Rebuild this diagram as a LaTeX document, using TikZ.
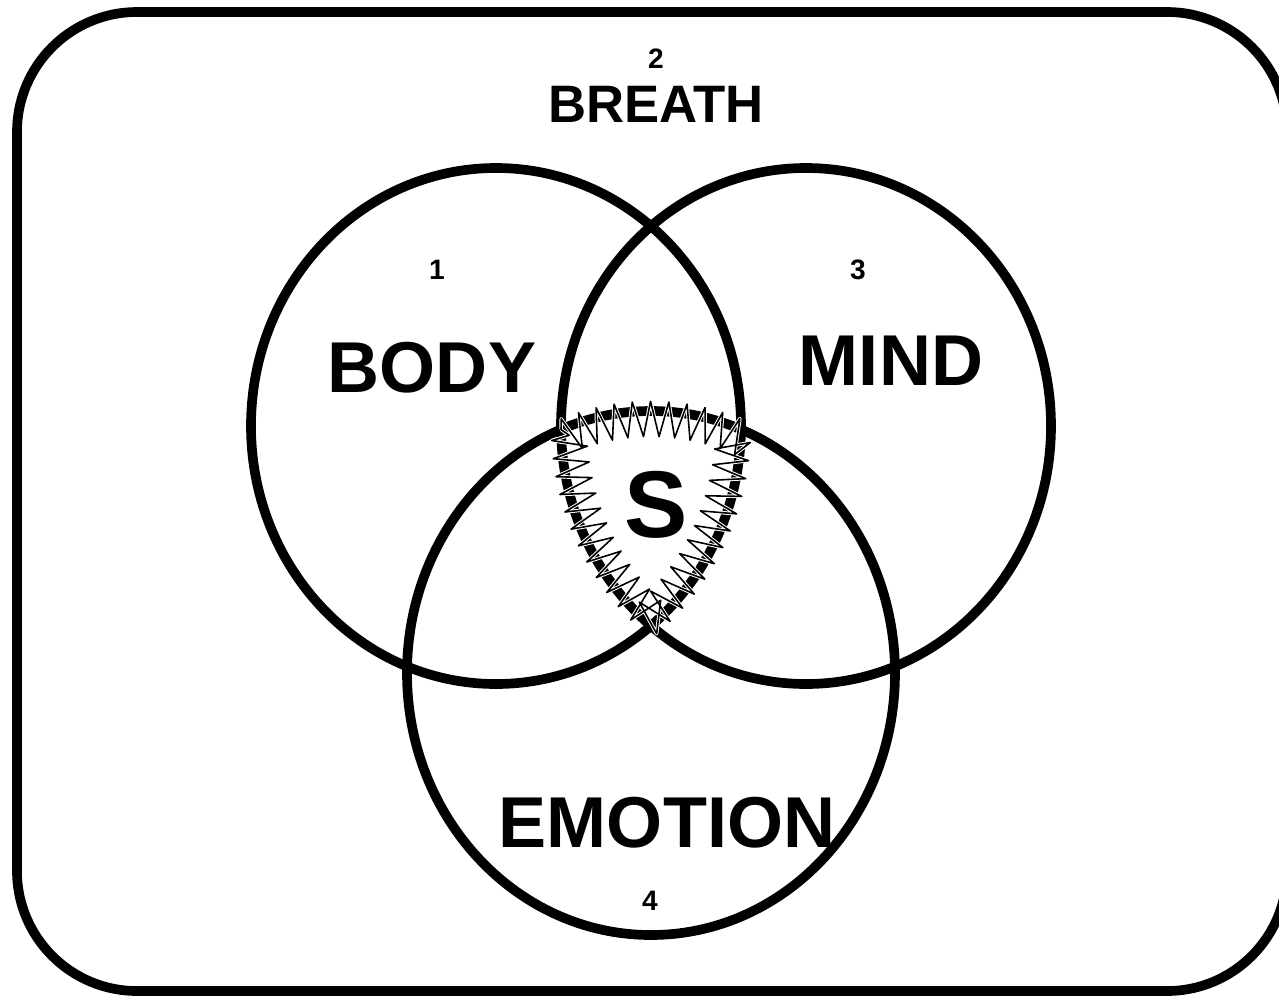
\documentclass[tikz,border=0pt]{standalone}
\usepackage{fontspec}
\setmainfont{Liberation Sans}
\usetikzlibrary{decorations.pathmorphing}

\begin{document}
\begin{tikzpicture}[x=0.02cm,y=-0.02cm,line join=round,
  ring/.style={line width=5.5pt},
  bigword/.style={font=\fontsize{41}{41}\selectfont\bfseries,anchor=base,inner sep=0pt},
  numword/.style={font=\fontsize{16}{16}\selectfont\bfseries,anchor=base,inner sep=0pt},
  spiky/.style={decorate,decoration={zigzag,segment length=10pt,amplitude=10pt,raise=-4.5pt}}]
  \useasboundingbox (0,0) rectangle (1279,995);
  \coordinate (CB) at (496,426);
  \coordinate (CM) at (806,426);
  \coordinate (CE) at (651,673);
  \coordinate (ZS) at (561.0,429.5);
  \draw[ring,rounded corners=2.4cm] (17,12) rectangle (1287,991);
  \draw[ring] (CB) ellipse[x radius=245,y radius=258];
  \draw[ring] (CM) ellipse[x radius=245,y radius=258];
  \draw[ring] (CE) ellipse[x radius=244,y radius=262];
  \draw[spiky,white,line width=2pt] (ZS)
    arc[start angle=-111.65,end angle=-68.35,x radius=244,y radius=262]
    arc[start angle=0.8,end angle=50.75,x radius=245,y radius=258]
    arc[start angle=129.25,end angle=179.2,x radius=245,y radius=258] -- cycle;
  \draw[spiky,black,line width=0.9pt] (ZS)
    arc[start angle=-111.65,end angle=-68.35,x radius=244,y radius=262]
    arc[start angle=0.8,end angle=50.75,x radius=245,y radius=258]
    arc[start angle=129.25,end angle=179.2,x radius=245,y radius=258] -- cycle;
  \node[numword] (n2) at (656,68) {2};
  \node[bigword,font=\fontsize{30}{30}\selectfont\bfseries] (breath) at (656,122) {BREATH};
  \node[numword] (n1) at (437,279) {1};
  \node[bigword] (body) at (432,392) {BODY};
  \node[numword] (n3) at (858,279) {3};
  \node[bigword] (mind) at (891,385) {MIND};
  \node[bigword,font=\fontsize{54}{54}\selectfont\bfseries] (s) at (656,537) {S};
  \node[bigword] (emotion) at (667,847) {EMOTION};
  \node[numword] (n4) at (650,910) {4};
\end{tikzpicture}
\end{document}
